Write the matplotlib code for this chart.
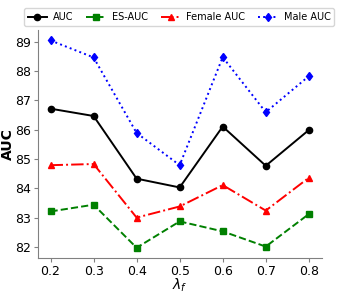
import matplotlib
matplotlib.use("Agg")
import matplotlib.pyplot as plt

lambdas = [0.2, 0.3, 0.4, 0.5, 0.6, 0.7, 0.8]
auc = [86.72, 86.47, 84.33, 84.03, 86.11, 84.77, 85.99]
es_auc = [83.21, 83.44, 81.97, 82.87, 82.53, 82.01, 83.12]
female_auc = [84.79, 84.83, 83.00, 83.38, 84.11, 83.24, 84.36]
male_auc = [89.05, 88.47, 85.89, 84.79, 88.48, 86.60, 87.83]

fig = plt.figure(figsize=(3.39, 2.95), dpi=100)
ax = fig.add_axes([0.111, 0.125, 0.838, 0.773])

ax.plot(lambdas, auc, color='black', linestyle='-', marker='o', markersize=4.5, linewidth=1.4, label='AUC')
ax.plot(lambdas, es_auc, color='green', linestyle='--', marker='s', markersize=4.5, linewidth=1.4, label='ES-AUC')
ax.plot(lambdas, female_auc, color='red', linestyle='-.', marker='^', markersize=4.5, linewidth=1.4, label='Female AUC')
ax.plot(lambdas, male_auc, color='blue', linestyle=':', marker='d', markersize=4.5, linewidth=1.4, label='Male AUC')

ax.set_xticks(lambdas)
ax.set_yticks([82, 83, 84, 85, 86, 87, 88, 89])
ax.tick_params(labelsize=9, color='gray', length=3, pad=2)
ax.spines['top'].set_visible(False)
ax.spines['right'].set_visible(False)
ax.spines['left'].set_color('gray')
ax.spines['bottom'].set_color('gray')

ax.set_xlabel(r'$\lambda_f$', fontsize=10, labelpad=-1)
ax.set_ylabel('AUC', fontsize=10, fontweight='bold')
ax.yaxis.set_label_coords(-0.08, 0.5)

fig.legend(loc='upper center', bbox_to_anchor=(0.528, 0.988), ncol=4, fontsize=7,
           handlelength=2, handletextpad=0.6, columnspacing=1.35, borderpad=0.4)

fig.savefig('out.png', dpi=100)
